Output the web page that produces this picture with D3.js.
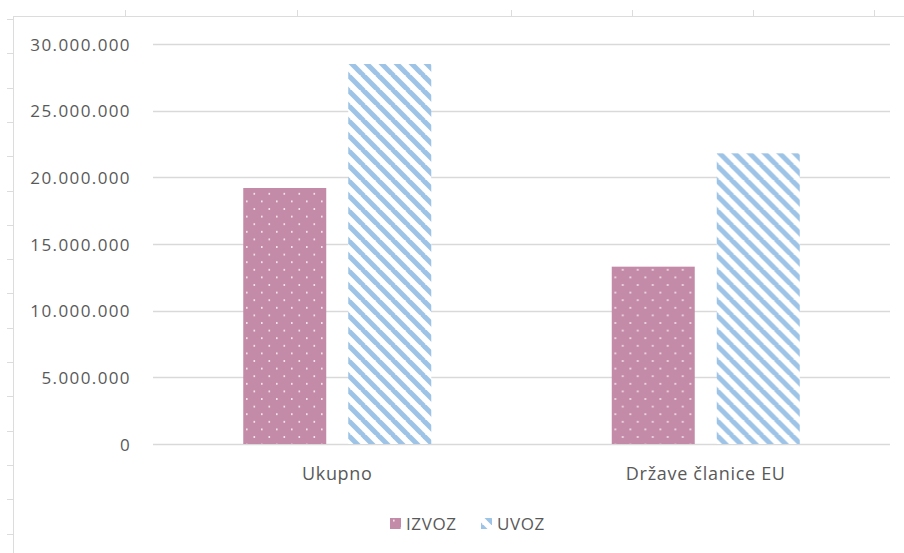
<!DOCTYPE html>
<html>
<head>
<meta charset="utf-8">
<script src="https://cdn.jsdelivr.net/npm/d3@7"></script>
<style>
  body { margin: 0; background: #fff; }
  text { font-family: "Open Sans", sans-serif; fill: #595959; }
</style>
</head>
<body>
<div id="grafikon"></div>
<script>
// podaci
const kategorije = ["Ukupno", "Države članice EU"];
const serije = ["IZVOZ", "UVOZ"];
const izvoz = [19200000, 13300000];
const uvoz = [28500000, 21800000];
const yTicks = [0, 5000000, 10000000, 15000000, 20000000, 25000000, 30000000];

const width = 904;
const height = 553;

const svg = d3.select("#grafikon")
  .append("svg")
  .attr("width", width)
  .attr("height", height);

// uzorci (točkice i dijagonalne pruge)
const defs = svg.append("defs");
const tocke = defs.append("pattern")
  .attr("id", "tocke")
  .attr("patternUnits", "userSpaceOnUse")
  .attr("width", 15).attr("height", 15.2);
tocke.append("rect").attr("width", 15).attr("height", 15.2).attr("fill", "#c48ba8");
tocke.append("rect").attr("x", 3).attr("y", 3).attr("width", 1.6).attr("height", 1.6).attr("fill", "#fbf3f7");
tocke.append("rect").attr("x", 10.5).attr("y", 10.6).attr("width", 1.6).attr("height", 1.6).attr("fill", "#fbf3f7");

const pruge = defs.append("pattern")
  .attr("id", "pruge")
  .attr("patternUnits", "userSpaceOnUse")
  .attr("width", 15).attr("height", 15);
pruge.append("rect").attr("width", 15).attr("height", 15).attr("fill", "#fff");
[-15, 0, 15].forEach(o => {
  pruge.append("line")
    .attr("x1", o - 1).attr("y1", -1).attr("x2", o + 16).attr("y2", 16)
    .attr("stroke", "#9dc3e6").attr("stroke-width", 5);
});

const boje = { IZVOZ: "url(#tocke)", UVOZ: "url(#pruge)" };

// okvir s oznakama (kao ravnalo)
const okvir = svg.append("g").attr("stroke", "#dcdcdc").attr("stroke-width", 1);
okvir.append("line").attr("x1", 13).attr("y1", 16.5).attr("x2", width).attr("y2", 16.5);
okvir.append("line").attr("x1", 13.5).attr("y1", 16).attr("x2", 13.5).attr("y2", height);
const okvirTickX = [125, 297, 511, 632, 753, 874];
okvirTickX.forEach(x => okvir.append("line").attr("x1", x + 0.5).attr("x2", x + 0.5).attr("y1", 10).attr("y2", 16));
d3.range(19, height, 34.3).forEach(y => okvir.append("line").attr("x1", 7).attr("x2", 13).attr("y1", Math.round(y) + 0.5).attr("y2", Math.round(y) + 0.5));

// skale
const x0 = d3.scaleBand().domain(kategorije).range([153, 890]).padding(0);
const bw = x0.bandwidth();
const x1 = d3.scaleBand().domain(serije).range([bw / 2 - 94, bw / 2 + 94]).paddingInner(0.2095).paddingOuter(0);
const y = d3.scaleLinear().domain([0, 30000000]).range([444, 44]);

const fmt = v => d3.format(",")(v).replace(/,/g, ".");

// mreža
svg.append("g").selectAll("line")
  .data(yTicks)
  .join("line")
  .attr("x1", 153).attr("x2", 890)
  .attr("y1", d => Math.round(y(d)) + 0.5).attr("y2", d => Math.round(y(d)) + 0.5)
  .attr("stroke", "#d9d9d9").attr("stroke-width", 1.3);

// os y
const osY = svg.append("g")
  .attr("transform", "translate(131,0)")
  .call(d3.axisLeft(y).tickValues(yTicks).tickFormat(fmt).tickSize(0).tickPadding(0));
osY.select(".domain").remove();
osY.selectAll("text")
  .attr("font-size", 17)
  .attr("letter-spacing", 1.4)
  .attr("fill", "#595959")
  .style("font-family", "'Open Sans', sans-serif")
  .attr("dy", "0.36em");

// stupci
const podaci = kategorije.map((k, i) => ({ k, vrijednosti: [
  { s: "IZVOZ", v: izvoz[i] }, { s: "UVOZ", v: uvoz[i] }
] }));

const grupe = svg.append("g").selectAll("g")
  .data(podaci)
  .join("g")
  .attr("transform", d => `translate(${x0(d.k)},0)`);

grupe.selectAll("rect")
  .data(d => d.vrijednosti)
  .join("rect")
  .attr("x", d => x1(d.s))
  .attr("width", x1.bandwidth())
  .attr("y", d => y(d.v))
  .attr("height", d => y(0) - y(d.v))
  .attr("fill", d => boje[d.s]);

// os x
const osX = svg.append("g")
  .attr("transform", "translate(0,444)")
  .call(d3.axisBottom(x0).tickSize(0).tickPadding(0));
osX.select(".domain").remove();
osX.selectAll("text")
  .attr("font-size", 18)
  .attr("letter-spacing", 0.7)
  .attr("fill", "#595959")
  .style("font-family", "'Open Sans', sans-serif")
  .attr("y", 36)
  .attr("dy", 0);

// legenda
const legPoz = [390, 481];
const legenda = svg.append("g");
serije.forEach((s, i) => {
  legenda.append("rect")
    .attr("x", legPoz[i]).attr("y", 518)
    .attr("width", 11).attr("height", 11)
    .attr("fill", boje[s]);
  legenda.append("text")
    .attr("x", legPoz[i] + 16).attr("y", 530)
    .attr("font-size", 17)
    .attr("letter-spacing", 0.6)
    .text(s);
});
</script>
</body>
</html>
